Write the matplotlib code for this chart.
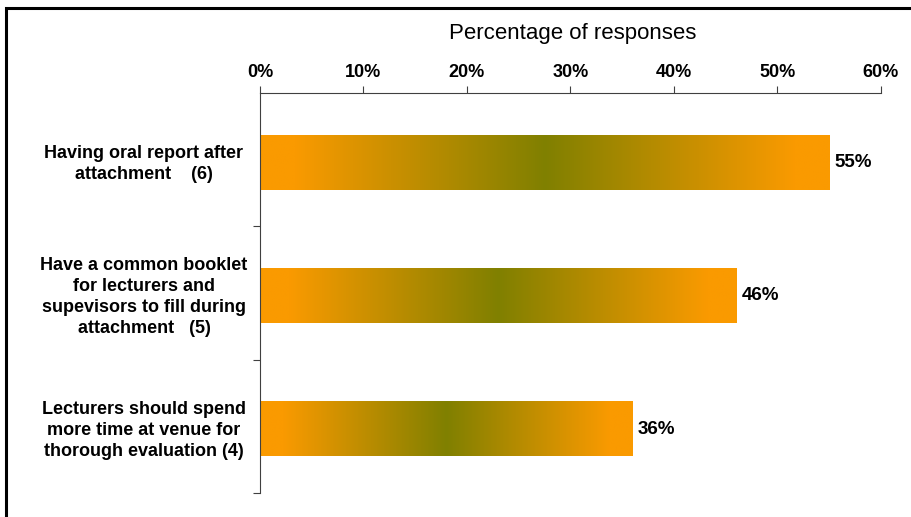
import matplotlib.pyplot as plt
import numpy as np
from matplotlib.colors import LinearSegmentedColormap
from matplotlib.patches import Rectangle

categories = [
    "Having oral report after\nattachment    (6)",
    "Have a common booklet\nfor lecturers and\nsupevisors to fill during\nattachment   (5)",
    "Lecturers should spend\nmore time at venue for\nthorough evaluation (4)",
]
values = [55, 46, 36]
x_ticks = [0, 10, 20, 30, 40, 50, 60]

plt.rcParams['font.family'] = ['Liberation Sans', 'DejaVu Sans']

fig = plt.figure(figsize=(9.12, 5.17), dpi=100)
ax = fig.add_axes([0.285, 0.0464, 0.681, 0.7736])

# orange -> olive -> orange gradient, per bar
cmap = LinearSegmentedColormap.from_list(
    'og', [(0, '#FA9A00'), (0.06, '#FA9A00'), (0.5, '#808000'),
           (0.94, '#FA9A00'), (1, '#FA9A00')])
grad = np.linspace(0, 1, 256).reshape(1, -1)

y = np.arange(len(categories))
bars = ax.barh(y + 0.02, values, height=0.41, color='none')
for b, v in zip(bars, values):
    x0, y0, w, h = b.get_x(), b.get_y(), b.get_width(), b.get_height()
    ax.imshow(grad, cmap=cmap, extent=[x0, x0 + w, y0, y0 + h],
              aspect='auto', zorder=2, interpolation='bilinear')
    ax.text(v + 0.5, b.get_y() + h / 2, f"{v}%", va='center', ha='left',
            fontsize=13.5, fontweight='bold')

ax.set_xlim(0, 60)
ax.set_ylim(len(categories) - 0.5, -0.5)

ax.xaxis.tick_top()
ax.set_xticks(x_ticks)
ax.set_xticklabels([f"{t}%" for t in x_ticks], fontsize=13, fontweight='bold')
ax.tick_params(axis='x', direction='out', length=5, pad=3.5, color='#404040')

ax.set_yticks(y + 0.5)
ax.set_yticklabels([])
ax.tick_params(axis='y', which='major', direction='out', length=5, color='#404040')
ax.set_yticks(y, minor=True)
ax.set_yticklabels(categories, minor=True, fontsize=13, fontweight='bold',
                   ha='center', linespacing=1.3)
ax.tick_params(axis='y', which='minor', length=0, pad=83.5)

for s in ['right', 'bottom']:
    ax.spines[s].set_visible(False)
for s in ['left', 'top']:
    ax.spines[s].set_color('#404040')

fig.text(0.628, 0.935, "Percentage of responses", ha='center', va='center', fontsize=16)

# outer frame (top and left edges visible)
fig.patches.append(Rectangle((6 / 912, -0.1), 1.2, 1 - 8 / 517 + 0.1,
                             transform=fig.transFigure, fill=False,
                             edgecolor='black', linewidth=2.2))

fig.savefig('out.png', dpi=100)
